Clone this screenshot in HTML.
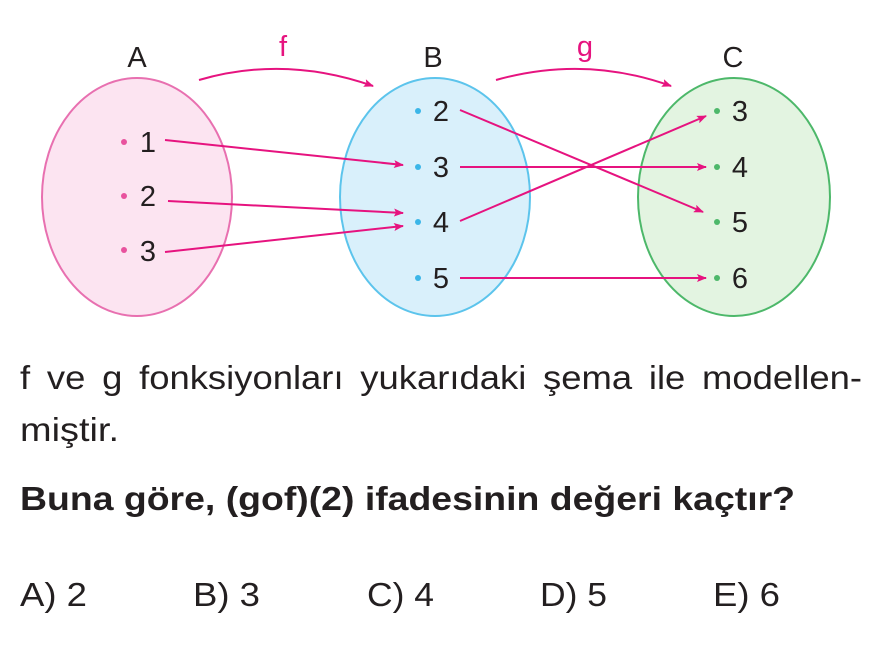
<!DOCTYPE html>
<html><head><meta charset="utf-8"><style>
body{margin:0;width:882px;height:652px;background:#fff;position:relative;overflow:hidden;font-family:"Liberation Sans",sans-serif;color:#231f20}
</style></head><body>
<svg width="882" height="652" style="position:absolute;left:0;top:0" font-family="Liberation Sans, sans-serif">
<defs><marker id="a" markerWidth="10" markerHeight="8" refX="9" refY="4" orient="auto" markerUnits="userSpaceOnUse"><path d="M0,0 L10,4 L0,8 L2,4z" fill="#e6137f"/></marker></defs>
<ellipse cx="137" cy="197" rx="95" ry="119" fill="#fce4f1" stroke="#e870b0" stroke-width="2"/>
<ellipse cx="435" cy="197" rx="95" ry="119" fill="#d9f0fb" stroke="#5cc4ec" stroke-width="2"/>
<ellipse cx="734" cy="197" rx="96" ry="119" fill="#e3f4e1" stroke="#4db86a" stroke-width="2"/>
<g font-size="29" fill="#231f20" text-anchor="middle">
<text x="137" y="67">A</text><text x="433" y="67">B</text><text x="733" y="67">C</text>
<text x="283" y="56" fill="#e6137f">f</text><text x="585" y="56" fill="#e6137f">g</text>
<text x="148" y="152">1</text><text x="148" y="206">2</text><text x="148" y="261">3</text>
<text x="441" y="121">2</text><text x="441" y="177">3</text><text x="441" y="232">4</text><text x="441" y="288">5</text>
<text x="740" y="121">3</text><text x="740" y="177">4</text><text x="740" y="232">5</text><text x="740" y="288">6</text>
</g>
<g fill="#e8529e"><circle cx="124" cy="142" r="3"/><circle cx="124" cy="196" r="3"/><circle cx="124" cy="250" r="3"/></g>
<g fill="#3bb6e8"><circle cx="418" cy="111" r="3"/><circle cx="418" cy="167" r="3"/><circle cx="418" cy="222" r="3"/><circle cx="418" cy="278" r="3"/></g>
<g fill="#4db86a"><circle cx="717" cy="111" r="3"/><circle cx="717" cy="167" r="3"/><circle cx="717" cy="222" r="3"/><circle cx="717" cy="278" r="3"/></g>
<g stroke="#e6137f" stroke-width="2" fill="none" marker-end="url(#a)">
<path d="M199,80 Q285,55 373,86"/><path d="M496,80 Q585,55 671,86"/>
<line x1="165" y1="140" x2="403" y2="165"/><line x1="168" y1="201" x2="403" y2="213"/><line x1="165" y1="252" x2="403" y2="226"/>
<line x1="460" y1="110" x2="703" y2="212"/><line x1="460" y1="167" x2="706" y2="167"/><line x1="460" y1="221" x2="706" y2="116"/><line x1="460" y1="278" x2="706" y2="278"/>
</g>
<g font-size="33" fill="#231f20">
<text x="20" y="389" textLength="842" lengthAdjust="spacingAndGlyphs" word-spacing="6">f ve g fonksiyonları yukarıdaki şema ile modellen-</text>
<text x="20" y="441" textLength="99" lengthAdjust="spacingAndGlyphs">miştir.</text>
<text x="20" y="510" font-weight="bold" textLength="775" lengthAdjust="spacingAndGlyphs">Buna göre, (gof)(2) ifadesinin değeri kaçtır?</text>
<text x="20" y="606" textLength="67" lengthAdjust="spacingAndGlyphs">A) 2</text>
<text x="193" y="606" textLength="67" lengthAdjust="spacingAndGlyphs">B) 3</text>
<text x="367" y="606" textLength="67" lengthAdjust="spacingAndGlyphs">C) 4</text>
<text x="540" y="606" textLength="67" lengthAdjust="spacingAndGlyphs">D) 5</text>
<text x="713" y="606" textLength="67" lengthAdjust="spacingAndGlyphs">E) 6</text>
</g>
</svg>
</body></html>
